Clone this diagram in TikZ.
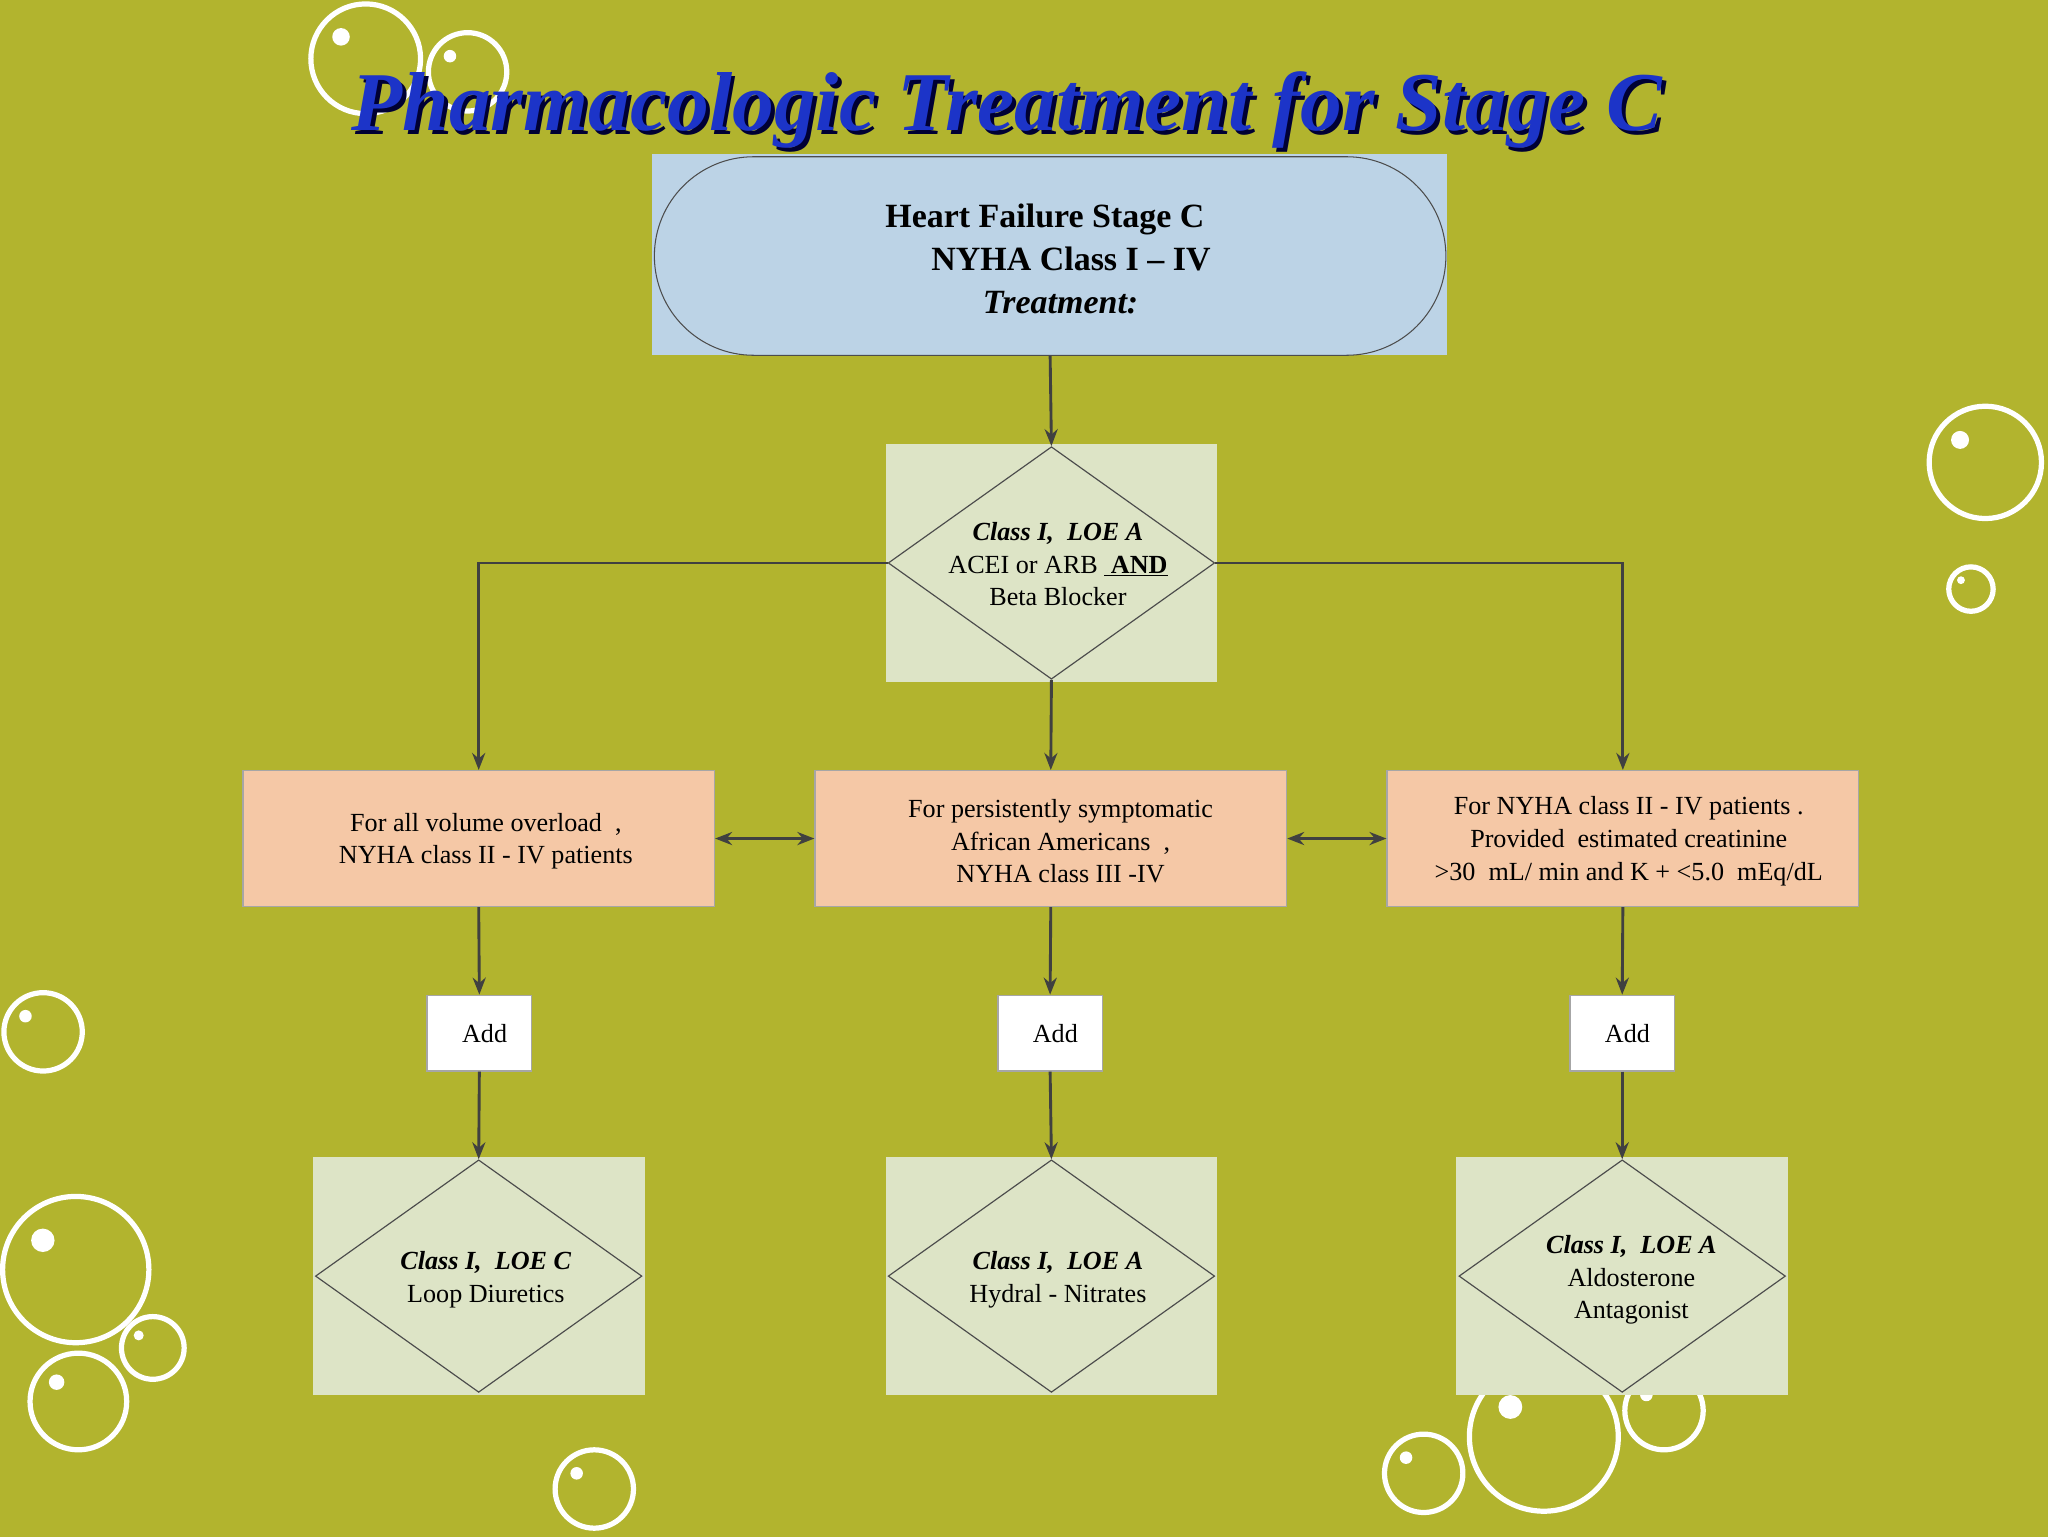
\documentclass[tikz,border=0pt]{standalone}
\usepackage{fontspec}
\setmainfont{Liberation Serif}
\usetikzlibrary{shapes.geometric,arrows.meta}
\definecolor{bg}{HTML}{B2B42E}
\definecolor{ttl}{HTML}{1C34C8}
\definecolor{blu}{HTML}{BCD3E6}
\definecolor{grn}{HTML}{DDE4C6}
\definecolor{org}{HTML}{F5C8A6}
\begin{document}
\begin{tikzpicture}[x=1pt,y=-1pt,
 txt/.style={font=\fontsize{20}{25}\selectfont,align=center,text=black},
 box/.style={draw=gray!70,line width=1pt},
 arr/.style={draw=black!75,line width=2.2pt,-{Stealth[length=13pt,width=10pt]}},
 darr/.style={draw=black!75,line width=2.2pt,{Stealth[length=13pt,width=10pt]}-{Stealth[length=13pt,width=10pt]}},
 dia/.style={draw=black!70,line width=0.9pt,diamond,aspect=1.4,minimum width=250pt,minimum height=178pt,inner sep=0pt},
 bub/.style={draw=white,line width=4pt}]
\useasboundingbox (0,0) rectangle (1568,1176);
\fill[bg] (-5,-5) rectangle (1573,1181);
% bubbles
\foreach \x/\y/\r in {280/45/42,358/55/30,1520/354/43,1509/451/17,33/790/30,58/972/56,117/1032/24,60/1073/37,455/1140/30,1182/1100/57,1274/1080/30,1090/1128/30}{
 \draw[bub] (\x,\y) circle (\r);
 \fill[white] ({\x-0.45*\r},{\y-0.4*\r}) circle ({max(3,0.16*\r)});}
% title
\node[font=\fontsize{64}{70}\selectfont\bfseries\itshape,text=black!80!blue] at (774,87) {Pharmacologic Treatment for Stage C};
\node[font=\fontsize{64}{70}\selectfont\bfseries\itshape,text=ttl] at (771,84) {Pharmacologic Treatment for Stage C};
% top box
\fill[blu] (499,118) rectangle (1108,272);
\node[draw=black!70,line width=0.8pt,fill=blu,rounded corners=76pt,minimum width=606pt,minimum height=152pt] (top) at (804,196) {};
\node[txt,font=\fontsize{26}{33}\selectfont\bfseries] at (800,198) {Heart Failure Stage C\\\hspace*{40pt}NYHA Class I -- IV\\\hspace*{24pt}\textit{Treatment:}};
% diamond 1
\fill[grn] (678,340) rectangle (932,522);
\node[dia] (d1) at (805,431) {};
\node[txt] at (810,432) {\textbf{\textit{Class I,\ \ LOE A}}\\ACEI or ARB \underline{\ \textbf{AND}}\\Beta Blocker};
% orange boxes
\node[box,fill=org,minimum width=361pt,minimum height=104pt] (o1) at (366.5,642) {};
\node[txt] at (372,644) {For all volume overload\ \ ,\\NYHA class II - IV patients};
\node[box,fill=org,minimum width=361pt,minimum height=104pt] (o2) at (804.5,642) {};
\node[txt] at (812,644) {For persistently symptomatic\\African Americans\ \ ,\\NYHA class III -IV};
\node[box,fill=org,minimum width=361pt,minimum height=104pt] (o3) at (1242.5,642) {};
\node[txt] at (1247,644) {For NYHA class II - IV patients .\\Provided\ \ estimated creatinine\\>30\ \ mL/ min and K + <5.0\ \ mEq/dL};
% add boxes
\node[box,fill=white,minimum width=80pt,minimum height=58pt,txt] (a1) at (367,791) {\hspace*{8pt}Add};
\node[box,fill=white,minimum width=80pt,minimum height=58pt,txt] (a2) at (804,791) {\hspace*{8pt}Add};
\node[box,fill=white,minimum width=80pt,minimum height=58pt,txt] (a3) at (1242,791) {\hspace*{8pt}Add};
% bottom diamonds
\foreach \n/\x in {b1/366.5,b2/805,b3/1242}{
 \fill[grn] ({\x-127},886) rectangle ({\x+127},1068);
 \node[dia] (\n) at (\x,977) {};}
\node[txt] at (372,980) {\textbf{\textit{Class I,\ \ LOE C}}\\Loop Diuretics};
\node[txt] at (810,980) {\textbf{\textit{Class I,\ \ LOE A}}\\Hydral - Nitrates};
\node[txt] at (1249,980) {\textbf{\textit{Class I,\ \ LOE A}}\\Aldosterone\\Antagonist};
% connectors
\draw[arr] (top.south) -- (d1.north);
\draw[arr] (d1.west) -| (o1.north);
\draw[arr] (d1.east) -| (o3.north);
\draw[arr] (d1.south) -- (o2.north);
\draw[darr] (o1.east) -- (o2.west);
\draw[darr] (o2.east) -- (o3.west);
\draw[arr] (o1.south) -- (a1.north);
\draw[arr] (o2.south) -- (a2.north);
\draw[arr] (o3.south) -- (a3.north);
\draw[arr] (a1.south) -- (b1.north);
\draw[arr] (a2.south) -- (b2.north);
\draw[arr] (a3.south) -- (b3.north);
\end{tikzpicture}
\end{document}
